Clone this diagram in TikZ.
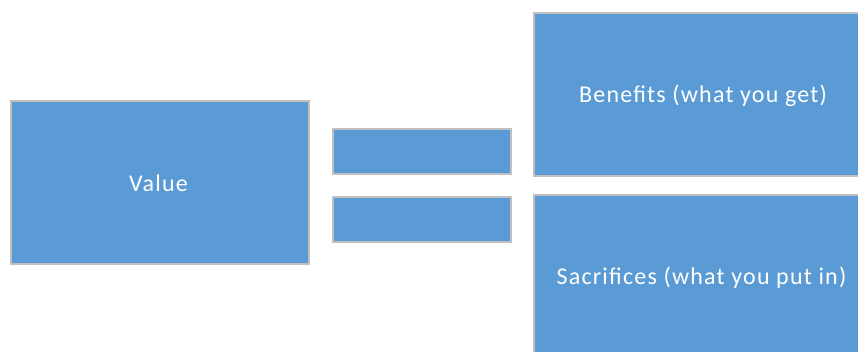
\documentclass[tikz,border=0pt]{standalone}
\usepackage{fontspec}
\setmainfont{Carlito}[LetterSpace=5]
\definecolor{boxfill}{HTML}{5B9BD5}
\definecolor{boxline}{HTML}{C0C0C0}
\begin{document}
\begin{tikzpicture}[x=1pt,y=-1pt,
  blk/.style={draw=boxline,line width=1.5pt,fill=boxfill},
  lbl/.style={text=white,anchor=base,inner sep=0pt,font=\fontsize{24}{28}\selectfont}]
\useasboundingbox (0,0) rectangle (858,352);
\fill[white] (0,0) rectangle (858,352);
\begin{scope}
\clip (0,0) rectangle (858,352);
\path[blk] (11,101) rectangle (309,264);
\node[lbl] (value) at (158.5,192) {Value};
\path[blk] (333,129) rectangle (511,174) node[midway] (bartop) {};
\path[blk] (333,197) rectangle (511,242) node[midway] (barbot) {};
\path[blk] (534,13) rectangle (862,176);
\node[lbl] (benefits) at (703,103) {Benefits (what you get)};
\path[blk] (534,195) rectangle (862,358);
\node[lbl] (sacrifices) at (701.5,284) {Sacrifices (what you put in)};
\end{scope}
\end{tikzpicture}
\end{document}
